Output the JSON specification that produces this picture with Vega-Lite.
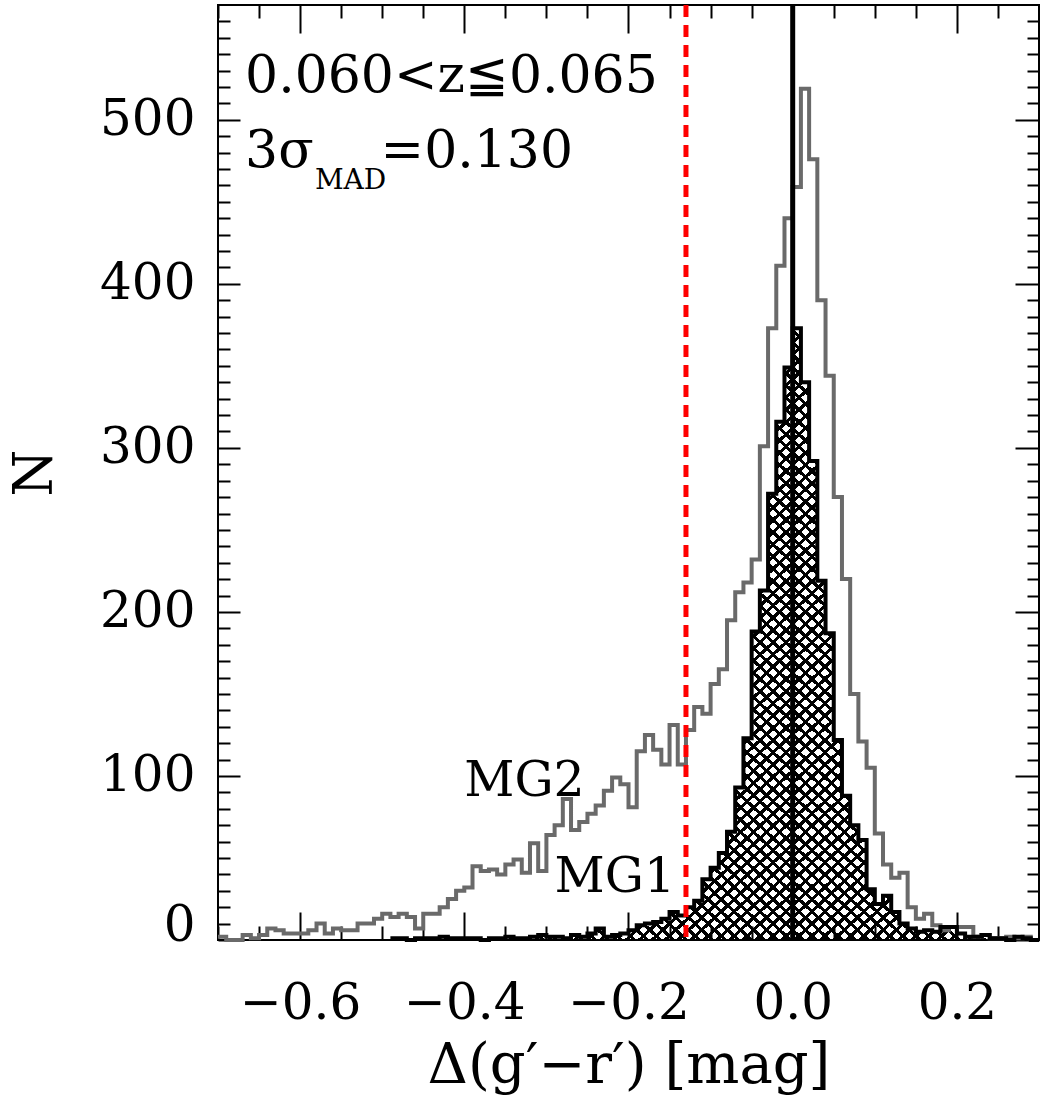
{
"$schema": "https://vega.github.io/schema/vega-lite/v6.json",
"width": 821, "height": 935,
"autosize": {"type": "none"},
"padding": {"left": 218, "top": 5, "right": 1, "bottom": 164},
"config": {
 "view": {"stroke": "black", "strokeWidth": 2},
 "font": "DejaVu Serif",
 "axis": {"domain": false, "grid": false, "tickColor": "black", "tickWidth": 2, "labelColor": "black", "titleColor": "black", "labelFontWeight": "normal", "titleFontWeight": "normal", "zindex": 1, "labelOverlap": false, "labelFont": "DejaVu Serif", "titleFont": "DejaVu Serif"}
},
"datasets": {
 "grey": [
{"x":-0.70,"n":2},{"x":-0.69,"n":0},{"x":-0.68,"n":0},{"x":-0.67,"n":3},{"x":-0.66,"n":1},{"x":-0.65,"n":3},{"x":-0.64,"n":7},{"x":-0.63,"n":6},{"x":-0.62,"n":4},{"x":-0.61,"n":4},
{"x":-0.60,"n":4},{"x":-0.59,"n":6},{"x":-0.58,"n":10},{"x":-0.57,"n":4},{"x":-0.56,"n":7},{"x":-0.55,"n":6},{"x":-0.54,"n":6},{"x":-0.53,"n":10},{"x":-0.52,"n":10},{"x":-0.51,"n":13},
{"x":-0.50,"n":16},{"x":-0.49,"n":14},{"x":-0.48,"n":16},{"x":-0.47,"n":14},{"x":-0.46,"n":7},{"x":-0.45,"n":16},{"x":-0.44,"n":16},{"x":-0.43,"n":20},{"x":-0.42,"n":25},{"x":-0.41,"n":30},
{"x":-0.40,"n":32},{"x":-0.39,"n":45},{"x":-0.38,"n":42},{"x":-0.37,"n":43},{"x":-0.36,"n":40},{"x":-0.35,"n":46},{"x":-0.34,"n":49},{"x":-0.33,"n":41},{"x":-0.32,"n":59},{"x":-0.31,"n":42},
{"x":-0.30,"n":64},{"x":-0.29,"n":70},{"x":-0.28,"n":86},{"x":-0.27,"n":67},{"x":-0.26,"n":72},{"x":-0.25,"n":77},{"x":-0.24,"n":82},{"x":-0.23,"n":91},{"x":-0.22,"n":99},{"x":-0.21,"n":95},
{"x":-0.20,"n":81},{"x":-0.19,"n":115},{"x":-0.18,"n":125},{"x":-0.17,"n":116},{"x":-0.16,"n":107},{"x":-0.15,"n":131},{"x":-0.14,"n":107},{"x":-0.13,"n":128},{"x":-0.12,"n":142},{"x":-0.11,"n":138},
{"x":-0.10,"n":156},{"x":-0.09,"n":165},{"x":-0.08,"n":195},{"x":-0.07,"n":212},{"x":-0.06,"n":218},{"x":-0.05,"n":232},{"x":-0.04,"n":301},{"x":-0.03,"n":373},{"x":-0.02,"n":411},{"x":-0.01,"n":440},
{"x":0.00,"n":459},{"x":0.01,"n":519},{"x":0.02,"n":476},{"x":0.03,"n":390},{"x":0.04,"n":344},{"x":0.05,"n":270},{"x":0.06,"n":220},{"x":0.07,"n":150},{"x":0.08,"n":121},{"x":0.09,"n":105},
{"x":0.10,"n":65},{"x":0.11,"n":46},{"x":0.12,"n":38},{"x":0.13,"n":41},{"x":0.14,"n":20},{"x":0.15,"n":13},{"x":0.16,"n":16},{"x":0.17,"n":9},{"x":0.18,"n":6},{"x":0.19,"n":8},
{"x":0.20,"n":8},{"x":0.21,"n":8},{"x":0.22,"n":2},{"x":0.23,"n":3},{"x":0.24,"n":1},{"x":0.25,"n":1},{"x":0.26,"n":2},{"x":0.27,"n":1},{"x":0.28,"n":2},{"x":0.29,"n":0},
{"x":0.30,"n":0}
 ],
 "black": [
{"x":-0.49,"n":1},{"x":-0.48,"n":1},{"x":-0.47,"n":0},{"x":-0.46,"n":1},{"x":-0.45,"n":1},{"x":-0.44,"n":1},{"x":-0.43,"n":2},{"x":-0.42,"n":1},{"x":-0.41,"n":1},
{"x":-0.40,"n":1},{"x":-0.39,"n":1},{"x":-0.38,"n":0},{"x":-0.37,"n":1},{"x":-0.36,"n":1},{"x":-0.35,"n":2},{"x":-0.34,"n":1},{"x":-0.33,"n":1},{"x":-0.32,"n":2},{"x":-0.31,"n":3},
{"x":-0.30,"n":2},{"x":-0.29,"n":2},{"x":-0.28,"n":1},{"x":-0.27,"n":3},{"x":-0.26,"n":2},{"x":-0.25,"n":4},{"x":-0.24,"n":7},{"x":-0.23,"n":2},{"x":-0.22,"n":3},{"x":-0.21,"n":4},
{"x":-0.20,"n":6},{"x":-0.19,"n":9},{"x":-0.18,"n":10},{"x":-0.17,"n":11},{"x":-0.16,"n":13},{"x":-0.15,"n":17},{"x":-0.14,"n":15},{"x":-0.13,"n":20},{"x":-0.12,"n":24},{"x":-0.11,"n":37},
{"x":-0.10,"n":44},{"x":-0.09,"n":53},{"x":-0.08,"n":66},{"x":-0.07,"n":93},{"x":-0.06,"n":123},{"x":-0.05,"n":188},{"x":-0.04,"n":213},{"x":-0.03,"n":272},{"x":-0.02,"n":316},{"x":-0.01,"n":349},
{"x":0.00,"n":373},{"x":0.01,"n":340},{"x":0.02,"n":292},{"x":0.03,"n":219},{"x":0.04,"n":187},{"x":0.05,"n":122},{"x":0.06,"n":88},{"x":0.07,"n":70},{"x":0.08,"n":61},{"x":0.09,"n":31},
{"x":0.10,"n":22},{"x":0.11,"n":27},{"x":0.12,"n":17},{"x":0.13,"n":10},{"x":0.14,"n":7},{"x":0.15,"n":5},{"x":0.16,"n":6},{"x":0.17,"n":5},{"x":0.18,"n":8},{"x":0.19,"n":8},
{"x":0.20,"n":4},{"x":0.21,"n":2},{"x":0.22,"n":2},{"x":0.23,"n":3},{"x":0.24,"n":1},{"x":0.25,"n":1},{"x":0.26,"n":0},{"x":0.27,"n":2},{"x":0.28,"n":1},{"x":0.29,"n":0},
{"x":0.30,"n":0}
 ]
},
"resolve": {"axis": {"x": "independent", "y": "independent"}},
"layer": [
 {
  "data": {"name": "black"},
  "mark": {"type": "area", "orient": "vertical", "interpolate": "step-after", "fill": {"gradient": "linear", "x1": 0, "y1": 0, "x2": 1, "y2": 1, "stops": [
{"offset":0.30,"color":"transparent"},{"offset":0.30,"color":"#000"},{"offset":0.3035,"color":"#000"},{"offset":0.3035,"color":"transparent"},
{"offset":0.31,"color":"transparent"},{"offset":0.31,"color":"#000"},{"offset":0.3135,"color":"#000"},{"offset":0.3135,"color":"transparent"},
{"offset":0.32,"color":"transparent"},{"offset":0.32,"color":"#000"},{"offset":0.3235,"color":"#000"},{"offset":0.3235,"color":"transparent"},
{"offset":0.33,"color":"transparent"},{"offset":0.33,"color":"#000"},{"offset":0.3335,"color":"#000"},{"offset":0.3335,"color":"transparent"},
{"offset":0.34,"color":"transparent"},{"offset":0.34,"color":"#000"},{"offset":0.3435,"color":"#000"},{"offset":0.3435,"color":"transparent"},
{"offset":0.35,"color":"transparent"},{"offset":0.35,"color":"#000"},{"offset":0.3535,"color":"#000"},{"offset":0.3535,"color":"transparent"},
{"offset":0.36,"color":"transparent"},{"offset":0.36,"color":"#000"},{"offset":0.3635,"color":"#000"},{"offset":0.3635,"color":"transparent"},
{"offset":0.37,"color":"transparent"},{"offset":0.37,"color":"#000"},{"offset":0.3735,"color":"#000"},{"offset":0.3735,"color":"transparent"},
{"offset":0.38,"color":"transparent"},{"offset":0.38,"color":"#000"},{"offset":0.3835,"color":"#000"},{"offset":0.3835,"color":"transparent"},
{"offset":0.39,"color":"transparent"},{"offset":0.39,"color":"#000"},{"offset":0.3935,"color":"#000"},{"offset":0.3935,"color":"transparent"},
{"offset":0.40,"color":"transparent"},{"offset":0.40,"color":"#000"},{"offset":0.4035,"color":"#000"},{"offset":0.4035,"color":"transparent"},
{"offset":0.41,"color":"transparent"},{"offset":0.41,"color":"#000"},{"offset":0.4135,"color":"#000"},{"offset":0.4135,"color":"transparent"},
{"offset":0.42,"color":"transparent"},{"offset":0.42,"color":"#000"},{"offset":0.4235,"color":"#000"},{"offset":0.4235,"color":"transparent"},
{"offset":0.43,"color":"transparent"},{"offset":0.43,"color":"#000"},{"offset":0.4335,"color":"#000"},{"offset":0.4335,"color":"transparent"},
{"offset":0.44,"color":"transparent"},{"offset":0.44,"color":"#000"},{"offset":0.4435,"color":"#000"},{"offset":0.4435,"color":"transparent"},
{"offset":0.45,"color":"transparent"},{"offset":0.45,"color":"#000"},{"offset":0.4535,"color":"#000"},{"offset":0.4535,"color":"transparent"},
{"offset":0.46,"color":"transparent"},{"offset":0.46,"color":"#000"},{"offset":0.4635,"color":"#000"},{"offset":0.4635,"color":"transparent"},
{"offset":0.47,"color":"transparent"},{"offset":0.47,"color":"#000"},{"offset":0.4735,"color":"#000"},{"offset":0.4735,"color":"transparent"},
{"offset":0.48,"color":"transparent"},{"offset":0.48,"color":"#000"},{"offset":0.4835,"color":"#000"},{"offset":0.4835,"color":"transparent"},
{"offset":0.49,"color":"transparent"},{"offset":0.49,"color":"#000"},{"offset":0.4935,"color":"#000"},{"offset":0.4935,"color":"transparent"},
{"offset":0.50,"color":"transparent"},{"offset":0.50,"color":"#000"},{"offset":0.5035,"color":"#000"},{"offset":0.5035,"color":"transparent"},
{"offset":0.51,"color":"transparent"},{"offset":0.51,"color":"#000"},{"offset":0.5135,"color":"#000"},{"offset":0.5135,"color":"transparent"},
{"offset":0.52,"color":"transparent"},{"offset":0.52,"color":"#000"},{"offset":0.5235,"color":"#000"},{"offset":0.5235,"color":"transparent"},
{"offset":0.53,"color":"transparent"},{"offset":0.53,"color":"#000"},{"offset":0.5335,"color":"#000"},{"offset":0.5335,"color":"transparent"},
{"offset":0.54,"color":"transparent"},{"offset":0.54,"color":"#000"},{"offset":0.5435,"color":"#000"},{"offset":0.5435,"color":"transparent"},
{"offset":0.55,"color":"transparent"},{"offset":0.55,"color":"#000"},{"offset":0.5535,"color":"#000"},{"offset":0.5535,"color":"transparent"},
{"offset":0.56,"color":"transparent"},{"offset":0.56,"color":"#000"},{"offset":0.5635,"color":"#000"},{"offset":0.5635,"color":"transparent"},
{"offset":0.57,"color":"transparent"},{"offset":0.57,"color":"#000"},{"offset":0.5735,"color":"#000"},{"offset":0.5735,"color":"transparent"},
{"offset":0.58,"color":"transparent"},{"offset":0.58,"color":"#000"},{"offset":0.5835,"color":"#000"},{"offset":0.5835,"color":"transparent"},
{"offset":0.59,"color":"transparent"},{"offset":0.59,"color":"#000"},{"offset":0.5935,"color":"#000"},{"offset":0.5935,"color":"transparent"},
{"offset":0.60,"color":"transparent"},{"offset":0.60,"color":"#000"},{"offset":0.6035,"color":"#000"},{"offset":0.6035,"color":"transparent"},
{"offset":0.61,"color":"transparent"},{"offset":0.61,"color":"#000"},{"offset":0.6135,"color":"#000"},{"offset":0.6135,"color":"transparent"},
{"offset":0.62,"color":"transparent"},{"offset":0.62,"color":"#000"},{"offset":0.6235,"color":"#000"},{"offset":0.6235,"color":"transparent"},
{"offset":0.63,"color":"transparent"},{"offset":0.63,"color":"#000"},{"offset":0.6335,"color":"#000"},{"offset":0.6335,"color":"transparent"},
{"offset":0.64,"color":"transparent"},{"offset":0.64,"color":"#000"},{"offset":0.6435,"color":"#000"},{"offset":0.6435,"color":"transparent"},
{"offset":0.65,"color":"transparent"},{"offset":0.65,"color":"#000"},{"offset":0.6535,"color":"#000"},{"offset":0.6535,"color":"transparent"},
{"offset":0.66,"color":"transparent"},{"offset":0.66,"color":"#000"},{"offset":0.6635,"color":"#000"},{"offset":0.6635,"color":"transparent"},
{"offset":0.67,"color":"transparent"},{"offset":0.67,"color":"#000"},{"offset":0.6735,"color":"#000"},{"offset":0.6735,"color":"transparent"},
{"offset":0.68,"color":"transparent"},{"offset":0.68,"color":"#000"},{"offset":0.6835,"color":"#000"},{"offset":0.6835,"color":"transparent"},
{"offset":0.69,"color":"transparent"},{"offset":0.69,"color":"#000"},{"offset":0.6935,"color":"#000"},{"offset":0.6935,"color":"transparent"},
{"offset":0.70,"color":"transparent"},{"offset":0.70,"color":"#000"},{"offset":0.7035,"color":"#000"},{"offset":0.7035,"color":"transparent"},
{"offset":0.71,"color":"transparent"},{"offset":0.71,"color":"#000"},{"offset":0.7135,"color":"#000"},{"offset":0.7135,"color":"transparent"},
{"offset":0.72,"color":"transparent"},{"offset":0.72,"color":"#000"},{"offset":0.7235,"color":"#000"},{"offset":0.7235,"color":"transparent"},
{"offset":0.73,"color":"transparent"},{"offset":0.73,"color":"#000"},{"offset":0.7335,"color":"#000"},{"offset":0.7335,"color":"transparent"},
{"offset":0.74,"color":"transparent"},{"offset":0.74,"color":"#000"},{"offset":0.7435,"color":"#000"},{"offset":0.7435,"color":"transparent"},
{"offset":0.75,"color":"transparent"},{"offset":0.75,"color":"#000"},{"offset":0.7535,"color":"#000"},{"offset":0.7535,"color":"transparent"},
{"offset":0.76,"color":"transparent"},{"offset":0.76,"color":"#000"},{"offset":0.7635,"color":"#000"},{"offset":0.7635,"color":"transparent"},
{"offset":0.77,"color":"transparent"},{"offset":0.77,"color":"#000"},{"offset":0.7735,"color":"#000"},{"offset":0.7735,"color":"transparent"},
{"offset":0.78,"color":"transparent"},{"offset":0.78,"color":"#000"},{"offset":0.7835,"color":"#000"},{"offset":0.7835,"color":"transparent"},
{"offset":0.79,"color":"transparent"},{"offset":0.79,"color":"#000"},{"offset":0.7935,"color":"#000"},{"offset":0.7935,"color":"transparent"},
{"offset":0.80,"color":"transparent"},{"offset":0.80,"color":"#000"},{"offset":0.8035,"color":"#000"},{"offset":0.8035,"color":"transparent"},
{"offset":0.81,"color":"transparent"},{"offset":0.81,"color":"#000"},{"offset":0.8135,"color":"#000"},{"offset":0.8135,"color":"transparent"},
{"offset":0.82,"color":"transparent"},{"offset":0.82,"color":"#000"},{"offset":0.8235,"color":"#000"},{"offset":0.8235,"color":"transparent"},
{"offset":0.83,"color":"transparent"},{"offset":0.83,"color":"#000"},{"offset":0.8335,"color":"#000"},{"offset":0.8335,"color":"transparent"},
{"offset":0.84,"color":"transparent"},{"offset":0.84,"color":"#000"},{"offset":0.8435,"color":"#000"},{"offset":0.8435,"color":"transparent"},
{"offset":0.85,"color":"transparent"},{"offset":0.85,"color":"#000"},{"offset":0.8535,"color":"#000"},{"offset":0.8535,"color":"transparent"},
{"offset":0.86,"color":"transparent"},{"offset":0.86,"color":"#000"},{"offset":0.8635,"color":"#000"},{"offset":0.8635,"color":"transparent"},
{"offset":0.87,"color":"transparent"},{"offset":0.87,"color":"#000"},{"offset":0.8735,"color":"#000"},{"offset":0.8735,"color":"transparent"},
{"offset":0.88,"color":"transparent"},{"offset":0.88,"color":"#000"},{"offset":0.8835,"color":"#000"},{"offset":0.8835,"color":"transparent"},
{"offset":0.89,"color":"transparent"},{"offset":0.89,"color":"#000"},{"offset":0.8935,"color":"#000"},{"offset":0.8935,"color":"transparent"},
{"offset":0.90,"color":"transparent"},{"offset":0.90,"color":"#000"},{"offset":0.9035,"color":"#000"},{"offset":0.9035,"color":"transparent"},
{"offset":0.91,"color":"transparent"},{"offset":0.91,"color":"#000"},{"offset":0.9135,"color":"#000"},{"offset":0.9135,"color":"transparent"},
{"offset":0.92,"color":"transparent"},{"offset":0.92,"color":"#000"},{"offset":0.9235,"color":"#000"},{"offset":0.9235,"color":"transparent"},
{"offset":0.93,"color":"transparent"},{"offset":0.93,"color":"#000"},{"offset":0.9335,"color":"#000"},{"offset":0.9335,"color":"transparent"},
{"offset":0.94,"color":"transparent"},{"offset":0.94,"color":"#000"},{"offset":0.9435,"color":"#000"},{"offset":0.9435,"color":"transparent"},
{"offset":0.95,"color":"transparent"},{"offset":0.95,"color":"#000"},{"offset":0.9535,"color":"#000"},{"offset":0.9535,"color":"transparent"},
{"offset":0.96,"color":"transparent"},{"offset":0.96,"color":"#000"},{"offset":0.9635,"color":"#000"},{"offset":0.9635,"color":"transparent"},
{"offset":0.97,"color":"transparent"},{"offset":0.97,"color":"#000"},{"offset":0.9735,"color":"#000"},{"offset":0.9735,"color":"transparent"},
{"offset":0.98,"color":"transparent"},{"offset":0.98,"color":"#000"},{"offset":0.9835,"color":"#000"},{"offset":0.9835,"color":"transparent"},
{"offset":0.99,"color":"transparent"},{"offset":0.99,"color":"#000"},{"offset":0.9935,"color":"#000"},{"offset":0.9935,"color":"transparent"}
  ]}},
  "encoding": {
   "x": {"field": "x", "type": "quantitative", "scale": {"domain": [-0.7, 0.3], "nice": false, "zero": false},
    "axis": {"orient": "top", "values": [-0.7,-0.65,-0.6,-0.55,-0.5,-0.45,-0.4,-0.35,-0.3,-0.25,-0.2,-0.15,-0.1,-0.05,0,0.05,0.1,0.15,0.2,0.25,0.3],
     "tickSize": {"condition": {"test": "abs(round(datum.value*100)) % 20 == 0", "value": -28}, "value": -13}, "labels": false, "title": null}},
   "y": {"field": "n", "type": "quantitative", "scale": {"domain": [0, 570], "nice": false},
    "axis": {"orient": "right", "values": [0,10,20,30,40,50,60,70,80,90,100,110,120,130,140,150,160,170,180,190,200,210,220,230,240,250,260,270,280,290,300,310,320,330,340,350,360,370,380,390,400,410,420,430,440,450,460,470,480,490,500,510,520,530,540,550,560],
     "tickSize": {"condition": {"test": "round(datum.value) % 100 == 0", "value": -24}, "value": -12}, "labels": false, "title": null}}
  }
 },
 {
  "data": {"name": "black"},
  "mark": {"type": "area", "orient": "vertical", "interpolate": "step-after", "fill": {"gradient": "linear", "x1": 1, "y1": 0, "x2": 0, "y2": 1, "stops": [
{"offset":0.18,"color":"transparent"},{"offset":0.18,"color":"#000"},{"offset":0.1835,"color":"#000"},{"offset":0.1835,"color":"transparent"},
{"offset":0.19,"color":"transparent"},{"offset":0.19,"color":"#000"},{"offset":0.1935,"color":"#000"},{"offset":0.1935,"color":"transparent"},
{"offset":0.20,"color":"transparent"},{"offset":0.20,"color":"#000"},{"offset":0.2035,"color":"#000"},{"offset":0.2035,"color":"transparent"},
{"offset":0.21,"color":"transparent"},{"offset":0.21,"color":"#000"},{"offset":0.2135,"color":"#000"},{"offset":0.2135,"color":"transparent"},
{"offset":0.22,"color":"transparent"},{"offset":0.22,"color":"#000"},{"offset":0.2235,"color":"#000"},{"offset":0.2235,"color":"transparent"},
{"offset":0.23,"color":"transparent"},{"offset":0.23,"color":"#000"},{"offset":0.2335,"color":"#000"},{"offset":0.2335,"color":"transparent"},
{"offset":0.24,"color":"transparent"},{"offset":0.24,"color":"#000"},{"offset":0.2435,"color":"#000"},{"offset":0.2435,"color":"transparent"},
{"offset":0.25,"color":"transparent"},{"offset":0.25,"color":"#000"},{"offset":0.2535,"color":"#000"},{"offset":0.2535,"color":"transparent"},
{"offset":0.26,"color":"transparent"},{"offset":0.26,"color":"#000"},{"offset":0.2635,"color":"#000"},{"offset":0.2635,"color":"transparent"},
{"offset":0.27,"color":"transparent"},{"offset":0.27,"color":"#000"},{"offset":0.2735,"color":"#000"},{"offset":0.2735,"color":"transparent"},
{"offset":0.28,"color":"transparent"},{"offset":0.28,"color":"#000"},{"offset":0.2835,"color":"#000"},{"offset":0.2835,"color":"transparent"},
{"offset":0.29,"color":"transparent"},{"offset":0.29,"color":"#000"},{"offset":0.2935,"color":"#000"},{"offset":0.2935,"color":"transparent"},
{"offset":0.30,"color":"transparent"},{"offset":0.30,"color":"#000"},{"offset":0.3035,"color":"#000"},{"offset":0.3035,"color":"transparent"},
{"offset":0.31,"color":"transparent"},{"offset":0.31,"color":"#000"},{"offset":0.3135,"color":"#000"},{"offset":0.3135,"color":"transparent"},
{"offset":0.32,"color":"transparent"},{"offset":0.32,"color":"#000"},{"offset":0.3235,"color":"#000"},{"offset":0.3235,"color":"transparent"},
{"offset":0.33,"color":"transparent"},{"offset":0.33,"color":"#000"},{"offset":0.3335,"color":"#000"},{"offset":0.3335,"color":"transparent"},
{"offset":0.34,"color":"transparent"},{"offset":0.34,"color":"#000"},{"offset":0.3435,"color":"#000"},{"offset":0.3435,"color":"transparent"},
{"offset":0.35,"color":"transparent"},{"offset":0.35,"color":"#000"},{"offset":0.3535,"color":"#000"},{"offset":0.3535,"color":"transparent"},
{"offset":0.36,"color":"transparent"},{"offset":0.36,"color":"#000"},{"offset":0.3635,"color":"#000"},{"offset":0.3635,"color":"transparent"},
{"offset":0.37,"color":"transparent"},{"offset":0.37,"color":"#000"},{"offset":0.3735,"color":"#000"},{"offset":0.3735,"color":"transparent"},
{"offset":0.38,"color":"transparent"},{"offset":0.38,"color":"#000"},{"offset":0.3835,"color":"#000"},{"offset":0.3835,"color":"transparent"},
{"offset":0.39,"color":"transparent"},{"offset":0.39,"color":"#000"},{"offset":0.3935,"color":"#000"},{"offset":0.3935,"color":"transparent"},
{"offset":0.40,"color":"transparent"},{"offset":0.40,"color":"#000"},{"offset":0.4035,"color":"#000"},{"offset":0.4035,"color":"transparent"},
{"offset":0.41,"color":"transparent"},{"offset":0.41,"color":"#000"},{"offset":0.4135,"color":"#000"},{"offset":0.4135,"color":"transparent"},
{"offset":0.42,"color":"transparent"},{"offset":0.42,"color":"#000"},{"offset":0.4235,"color":"#000"},{"offset":0.4235,"color":"transparent"},
{"offset":0.43,"color":"transparent"},{"offset":0.43,"color":"#000"},{"offset":0.4335,"color":"#000"},{"offset":0.4335,"color":"transparent"},
{"offset":0.44,"color":"transparent"},{"offset":0.44,"color":"#000"},{"offset":0.4435,"color":"#000"},{"offset":0.4435,"color":"transparent"},
{"offset":0.45,"color":"transparent"},{"offset":0.45,"color":"#000"},{"offset":0.4535,"color":"#000"},{"offset":0.4535,"color":"transparent"},
{"offset":0.46,"color":"transparent"},{"offset":0.46,"color":"#000"},{"offset":0.4635,"color":"#000"},{"offset":0.4635,"color":"transparent"},
{"offset":0.47,"color":"transparent"},{"offset":0.47,"color":"#000"},{"offset":0.4735,"color":"#000"},{"offset":0.4735,"color":"transparent"},
{"offset":0.48,"color":"transparent"},{"offset":0.48,"color":"#000"},{"offset":0.4835,"color":"#000"},{"offset":0.4835,"color":"transparent"},
{"offset":0.49,"color":"transparent"},{"offset":0.49,"color":"#000"},{"offset":0.4935,"color":"#000"},{"offset":0.4935,"color":"transparent"},
{"offset":0.50,"color":"transparent"},{"offset":0.50,"color":"#000"},{"offset":0.5035,"color":"#000"},{"offset":0.5035,"color":"transparent"},
{"offset":0.51,"color":"transparent"},{"offset":0.51,"color":"#000"},{"offset":0.5135,"color":"#000"},{"offset":0.5135,"color":"transparent"},
{"offset":0.52,"color":"transparent"},{"offset":0.52,"color":"#000"},{"offset":0.5235,"color":"#000"},{"offset":0.5235,"color":"transparent"},
{"offset":0.53,"color":"transparent"},{"offset":0.53,"color":"#000"},{"offset":0.5335,"color":"#000"},{"offset":0.5335,"color":"transparent"},
{"offset":0.54,"color":"transparent"},{"offset":0.54,"color":"#000"},{"offset":0.5435,"color":"#000"},{"offset":0.5435,"color":"transparent"},
{"offset":0.55,"color":"transparent"},{"offset":0.55,"color":"#000"},{"offset":0.5535,"color":"#000"},{"offset":0.5535,"color":"transparent"},
{"offset":0.56,"color":"transparent"},{"offset":0.56,"color":"#000"},{"offset":0.5635,"color":"#000"},{"offset":0.5635,"color":"transparent"},
{"offset":0.57,"color":"transparent"},{"offset":0.57,"color":"#000"},{"offset":0.5735,"color":"#000"},{"offset":0.5735,"color":"transparent"},
{"offset":0.58,"color":"transparent"},{"offset":0.58,"color":"#000"},{"offset":0.5835,"color":"#000"},{"offset":0.5835,"color":"transparent"},
{"offset":0.59,"color":"transparent"},{"offset":0.59,"color":"#000"},{"offset":0.5935,"color":"#000"},{"offset":0.5935,"color":"transparent"},
{"offset":0.60,"color":"transparent"},{"offset":0.60,"color":"#000"},{"offset":0.6035,"color":"#000"},{"offset":0.6035,"color":"transparent"},
{"offset":0.61,"color":"transparent"},{"offset":0.61,"color":"#000"},{"offset":0.6135,"color":"#000"},{"offset":0.6135,"color":"transparent"},
{"offset":0.62,"color":"transparent"},{"offset":0.62,"color":"#000"},{"offset":0.6235,"color":"#000"},{"offset":0.6235,"color":"transparent"},
{"offset":0.63,"color":"transparent"},{"offset":0.63,"color":"#000"},{"offset":0.6335,"color":"#000"},{"offset":0.6335,"color":"transparent"},
{"offset":0.64,"color":"transparent"},{"offset":0.64,"color":"#000"},{"offset":0.6435,"color":"#000"},{"offset":0.6435,"color":"transparent"},
{"offset":0.65,"color":"transparent"},{"offset":0.65,"color":"#000"},{"offset":0.6535,"color":"#000"},{"offset":0.6535,"color":"transparent"},
{"offset":0.66,"color":"transparent"},{"offset":0.66,"color":"#000"},{"offset":0.6635,"color":"#000"},{"offset":0.6635,"color":"transparent"},
{"offset":0.67,"color":"transparent"},{"offset":0.67,"color":"#000"},{"offset":0.6735,"color":"#000"},{"offset":0.6735,"color":"transparent"},
{"offset":0.68,"color":"transparent"},{"offset":0.68,"color":"#000"},{"offset":0.6835,"color":"#000"},{"offset":0.6835,"color":"transparent"},
{"offset":0.69,"color":"transparent"},{"offset":0.69,"color":"#000"},{"offset":0.6935,"color":"#000"},{"offset":0.6935,"color":"transparent"},
{"offset":0.70,"color":"transparent"},{"offset":0.70,"color":"#000"},{"offset":0.7035,"color":"#000"},{"offset":0.7035,"color":"transparent"},
{"offset":0.71,"color":"transparent"},{"offset":0.71,"color":"#000"},{"offset":0.7135,"color":"#000"},{"offset":0.7135,"color":"transparent"},
{"offset":0.72,"color":"transparent"},{"offset":0.72,"color":"#000"},{"offset":0.7235,"color":"#000"},{"offset":0.7235,"color":"transparent"},
{"offset":0.73,"color":"transparent"},{"offset":0.73,"color":"#000"},{"offset":0.7335,"color":"#000"},{"offset":0.7335,"color":"transparent"},
{"offset":0.74,"color":"transparent"},{"offset":0.74,"color":"#000"},{"offset":0.7435,"color":"#000"},{"offset":0.7435,"color":"transparent"},
{"offset":0.75,"color":"transparent"},{"offset":0.75,"color":"#000"},{"offset":0.7535,"color":"#000"},{"offset":0.7535,"color":"transparent"},
{"offset":0.76,"color":"transparent"},{"offset":0.76,"color":"#000"},{"offset":0.7635,"color":"#000"},{"offset":0.7635,"color":"transparent"},
{"offset":0.77,"color":"transparent"},{"offset":0.77,"color":"#000"},{"offset":0.7735,"color":"#000"},{"offset":0.7735,"color":"transparent"},
{"offset":0.78,"color":"transparent"},{"offset":0.78,"color":"#000"},{"offset":0.7835,"color":"#000"},{"offset":0.7835,"color":"transparent"},
{"offset":0.79,"color":"transparent"},{"offset":0.79,"color":"#000"},{"offset":0.7935,"color":"#000"},{"offset":0.7935,"color":"transparent"},
{"offset":0.80,"color":"transparent"},{"offset":0.80,"color":"#000"},{"offset":0.8035,"color":"#000"},{"offset":0.8035,"color":"transparent"},
{"offset":0.81,"color":"transparent"},{"offset":0.81,"color":"#000"},{"offset":0.8135,"color":"#000"},{"offset":0.8135,"color":"transparent"},
{"offset":0.82,"color":"transparent"},{"offset":0.82,"color":"#000"},{"offset":0.8235,"color":"#000"},{"offset":0.8235,"color":"transparent"},
{"offset":0.83,"color":"transparent"},{"offset":0.83,"color":"#000"},{"offset":0.8335,"color":"#000"},{"offset":0.8335,"color":"transparent"},
{"offset":0.84,"color":"transparent"},{"offset":0.84,"color":"#000"},{"offset":0.8435,"color":"#000"},{"offset":0.8435,"color":"transparent"},
{"offset":0.85,"color":"transparent"},{"offset":0.85,"color":"#000"},{"offset":0.8535,"color":"#000"},{"offset":0.8535,"color":"transparent"},
{"offset":0.86,"color":"transparent"},{"offset":0.86,"color":"#000"},{"offset":0.8635,"color":"#000"},{"offset":0.8635,"color":"transparent"},
{"offset":0.87,"color":"transparent"},{"offset":0.87,"color":"#000"},{"offset":0.8735,"color":"#000"},{"offset":0.8735,"color":"transparent"},
{"offset":0.88,"color":"transparent"},{"offset":0.88,"color":"#000"},{"offset":0.8835,"color":"#000"},{"offset":0.8835,"color":"transparent"},
{"offset":0.89,"color":"transparent"},{"offset":0.89,"color":"#000"},{"offset":0.8935,"color":"#000"},{"offset":0.8935,"color":"transparent"},
{"offset":0.90,"color":"transparent"},{"offset":0.90,"color":"#000"},{"offset":0.9035,"color":"#000"},{"offset":0.9035,"color":"transparent"},
{"offset":0.91,"color":"transparent"},{"offset":0.91,"color":"#000"},{"offset":0.9135,"color":"#000"},{"offset":0.9135,"color":"transparent"},
{"offset":0.92,"color":"transparent"},{"offset":0.92,"color":"#000"},{"offset":0.9235,"color":"#000"},{"offset":0.9235,"color":"transparent"},
{"offset":0.93,"color":"transparent"},{"offset":0.93,"color":"#000"},{"offset":0.9335,"color":"#000"},{"offset":0.9335,"color":"transparent"},
{"offset":0.94,"color":"transparent"},{"offset":0.94,"color":"#000"},{"offset":0.9435,"color":"#000"},{"offset":0.9435,"color":"transparent"},
{"offset":0.95,"color":"transparent"},{"offset":0.95,"color":"#000"},{"offset":0.9535,"color":"#000"},{"offset":0.9535,"color":"transparent"},
{"offset":0.96,"color":"transparent"},{"offset":0.96,"color":"#000"},{"offset":0.9635,"color":"#000"},{"offset":0.9635,"color":"transparent"},
{"offset":0.97,"color":"transparent"},{"offset":0.97,"color":"#000"},{"offset":0.9735,"color":"#000"},{"offset":0.9735,"color":"transparent"},
{"offset":0.98,"color":"transparent"},{"offset":0.98,"color":"#000"},{"offset":0.9835,"color":"#000"},{"offset":0.9835,"color":"transparent"},
{"offset":0.99,"color":"transparent"},{"offset":0.99,"color":"#000"},{"offset":0.9935,"color":"#000"},{"offset":0.9935,"color":"transparent"}
  ]}},
  "encoding": {
   "x": {"field": "x", "type": "quantitative", "scale": {"domain": [-0.7, 0.3], "nice": false, "zero": false}, "axis": null},
   "y": {"field": "n", "type": "quantitative", "scale": {"domain": [0, 570], "nice": false}, "axis": null}
  }
 },
 {
  "data": {"name": "grey"},
  "mark": {"type": "line", "interpolate": "step-after", "color": "#6a6a6a", "strokeWidth": 4},
  "encoding": {
   "x": {"field": "x", "type": "quantitative", "scale": {"domain": [-0.7, 0.3], "nice": false, "zero": false},
    "axis": {"orient": "bottom", "values": [-0.7,-0.65,-0.6,-0.55,-0.5,-0.45,-0.4,-0.35,-0.3,-0.25,-0.2,-0.15,-0.1,-0.05,0,0.05,0.1,0.15,0.2,0.25,0.3],
     "tickSize": {"condition": {"test": "abs(round(datum.value*100)) % 20 == 0", "value": -28}, "value": -14},
     "labelExpr": "abs(round(datum.value*100)) % 20 == 0 ? format(datum.value, '.1f') : ''",
     "labelPadding": 66, "labelFontSize": 50, "labelFlush": false,
     "title": "Δ(g′−r′) [mag]", "titleFontSize": 56, "titlePadding": -4}},
   "y": {"field": "n", "type": "quantitative", "scale": {"domain": [0, 570], "nice": false},
    "axis": {"orient": "left", "values": [0,10,20,30,40,50,60,70,80,90,100,110,120,130,140,150,160,170,180,190,200,210,220,230,240,250,260,270,280,290,300,310,320,330,340,350,360,370,380,390,400,410,420,430,440,450,460,470,480,490,500,510,520,530,540,550,560],
     "tickSize": {"condition": {"test": "round(datum.value) % 100 == 0", "value": -22}, "value": -12},
     "labelExpr": "round(datum.value) % 100 == 0 ? format(datum.value, 'd') : ''",
     "labelPadding": 45, "labelFontSize": 50, "labelFlush": false,
     "labelBaseline": {"condition": {"test": "datum.value == 0", "value": "alphabetic"}, "value": "middle"},
     "title": "N", "titleFontSize": 54, "titlePadding": 37}}
  }
 },
 {
  "data": {"name": "black"},
  "mark": {"type": "line", "interpolate": "step-after", "color": "black", "strokeWidth": 4},
  "encoding": {
   "x": {"field": "x", "type": "quantitative", "scale": {"domain": [-0.7, 0.3], "nice": false, "zero": false}, "axis": null},
   "y": {"field": "n", "type": "quantitative", "scale": {"domain": [0, 570], "nice": false}, "axis": null}
  }
 },
 {
  "data": {"values": [{"x": 0}]},
  "mark": {"type": "rule", "color": "black", "strokeWidth": 5},
  "encoding": {"x": {"field": "x", "type": "quantitative", "scale": {"domain": [-0.7, 0.3], "nice": false, "zero": false}, "axis": null}}
 },
 {
  "data": {"values": [{"x": -0.13}]},
  "mark": {"type": "rule", "color": "#ff0000", "strokeWidth": 5, "strokeDash": [12, 8]},
  "encoding": {"x": {"field": "x", "type": "quantitative", "scale": {"domain": [-0.7, 0.3], "nice": false, "zero": false}, "axis": null}}
 },
 {
  "data": {"values": [
   {"x": -0.667, "y": 517, "t": "0.060<z≦0.065"},
   {"x": -0.667, "y": 471, "t": "3σ"},
   {"x": -0.502, "y": 471, "t": "=0.130"}
  ]},
  "mark": {"type": "text", "align": "left", "baseline": "alphabetic", "fontSize": 52, "color": "black"},
  "encoding": {
   "x": {"field": "x", "type": "quantitative", "scale": {"domain": [-0.7, 0.3], "nice": false, "zero": false}, "axis": null},
   "y": {"field": "y", "type": "quantitative", "scale": {"domain": [0, 570], "nice": false}, "axis": null},
   "text": {"field": "t"}
  }
 },
 {
  "data": {"values": [{"x": -0.582, "y": 458, "t": "MAD"}]},
  "mark": {"type": "text", "align": "left", "baseline": "alphabetic", "fontSize": 28, "color": "black"},
  "encoding": {
   "x": {"field": "x", "type": "quantitative", "scale": {"domain": [-0.7, 0.3], "nice": false, "zero": false}, "axis": null},
   "y": {"field": "y", "type": "quantitative", "scale": {"domain": [0, 570], "nice": false}, "axis": null},
   "text": {"field": "t"}
  }
 },
 {
  "data": {"values": [{"x": -0.40, "y": 88, "t": "MG2"}, {"x": -0.29, "y": 29, "t": "MG1"}]},
  "mark": {"type": "text", "align": "left", "baseline": "alphabetic", "fontSize": 49, "color": "black"},
  "encoding": {
   "x": {"field": "x", "type": "quantitative", "scale": {"domain": [-0.7, 0.3], "nice": false, "zero": false}, "axis": null},
   "y": {"field": "y", "type": "quantitative", "scale": {"domain": [0, 570], "nice": false}, "axis": null},
   "text": {"field": "t"}
  }
 }
]
}
